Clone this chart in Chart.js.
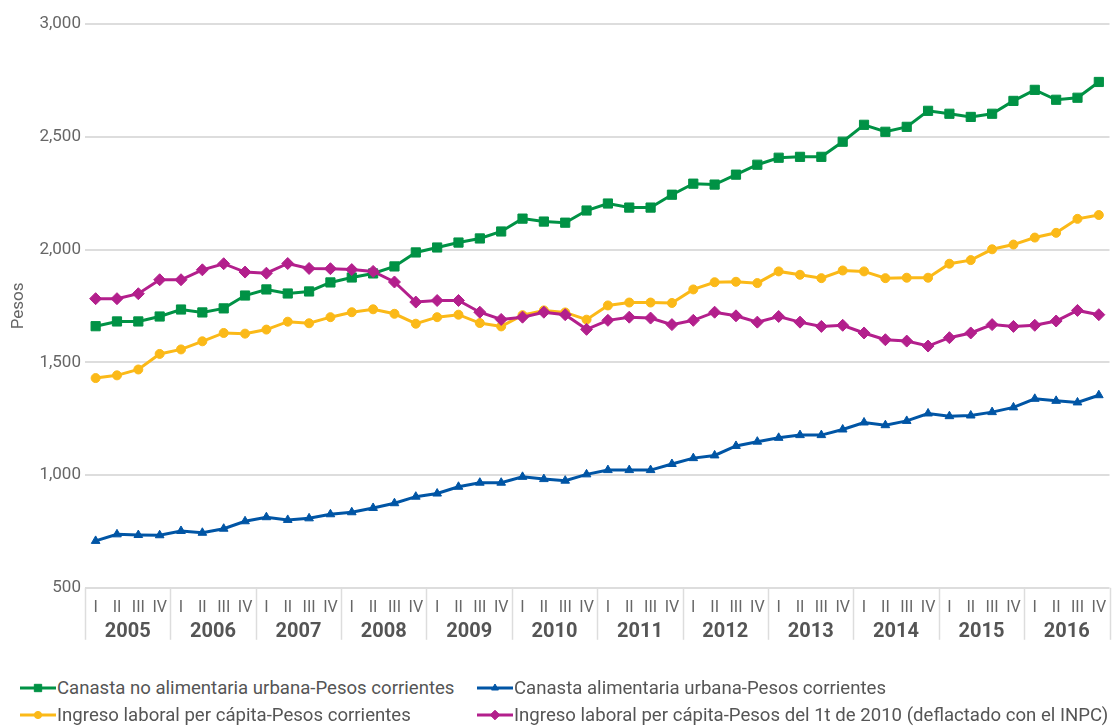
<!DOCTYPE html>
<html>
<head>
<meta charset="utf-8">
<script src="https://cdn.jsdelivr.net/npm/chart.js@4.4.1/dist/chart.umd.min.js"></script>
<style>
  body { margin: 0; background: #fff; font-family: Roboto, sans-serif; }
  #wrap { position: relative; width: 1117px; height: 728px; }
  #chartBox { position: absolute; left: 0; top: 0; width: 1117px; height: 653px; }
  #legend { position: absolute; left: 20px; top: 677px; display: grid; grid-template-columns: 457px auto; row-gap: 5px; }
  .item { display: flex; align-items: center; height: 22px; font-size: 18.6px; color: #555; white-space: nowrap; }
  .item canvas { margin-right: 1px; }
</style>
</head>
<body>
<div id="wrap">
  <div id="chartBox"><canvas id="lineas"></canvas></div>
  <div id="legend"></div>
</div>
<script>
// trimestres y años
const quarters = ['I', 'II', 'III', 'IV'];
const years = ['2005', '2006', '2007', '2008', '2009', '2010', '2011', '2012', '2013', '2014', '2015', '2016'];
const yTicks = [500, 1000, 1500, 2000, 2500, 3000];

// series (pesos)
const canastaNoAlimentaria = [1660, 1681, 1681, 1703, 1734, 1721, 1739, 1796, 1823, 1805, 1814, 1854,
  1876, 1894, 1925, 1987, 2009, 2031, 2049, 2080, 2137, 2124, 2119, 2173,
  2204, 2186, 2186, 2243, 2292, 2288, 2332, 2376, 2407, 2411, 2411, 2478,
  2553, 2522, 2544, 2615, 2602, 2588, 2602, 2659, 2708, 2664, 2673, 2743];
const canastaAlimentaria = [708, 737, 734, 733, 752, 744, 762, 795, 813, 801, 808, 826,
  835, 854, 875, 904, 918, 948, 966, 966, 992, 982, 975, 1003,
  1022, 1022, 1022, 1049, 1075, 1087, 1129, 1148, 1165, 1177, 1177, 1202,
  1233, 1221, 1240, 1273, 1261, 1264, 1279, 1300, 1338, 1329, 1322, 1354];
const ingresoCorriente = [1430, 1442, 1468, 1537, 1557, 1593, 1630, 1627, 1645, 1680, 1673, 1700,
  1722, 1735, 1715, 1671, 1700, 1711, 1674, 1659, 1709, 1730, 1721, 1689,
  1752, 1765, 1765, 1763, 1823, 1855, 1857, 1851, 1903, 1888, 1873, 1907,
  1903, 1873, 1875, 1875, 1937, 1953, 2001, 2022, 2053, 2074, 2136, 2153];
const ingresoDeflactado = [1782, 1782, 1804, 1866, 1866, 1910, 1937, 1900, 1895, 1938, 1916, 1915,
  1911, 1903, 1856, 1767, 1774, 1774, 1722, 1690, 1700, 1722, 1711, 1646,
  1686, 1700, 1696, 1667, 1686, 1722, 1706, 1678, 1703, 1678, 1659, 1664,
  1630, 1600, 1594, 1572, 1609, 1630, 1667, 1659, 1664, 1683, 1730, 1711];

const labels = years.flatMap(() => quarters);

function serie(label, data, color, pointStyle, radius, order) {
  return {
    label: label,
    data: data,
    borderColor: color,
    backgroundColor: color,
    borderWidth: 3,
    pointStyle: pointStyle,
    pointRadius: radius,
    pointHoverRadius: radius,
    pointBorderWidth: 1,
    tension: 0,
    order: order
  };
}

const datasets = [
  serie('Canasta no alimentaria urbana-Pesos corrientes', canastaNoAlimentaria, '#009245', 'rect', 6.5, 2),
  serie('Canasta alimentaria urbana-Pesos corrientes', canastaAlimentaria, '#0055a5', 'triangle', 5, 3),
  serie('Ingreso laboral per cápita-Pesos corrientes', ingresoCorriente, '#fbb918', 'circle', 4.5, 1),
  serie('Ingreso laboral per cápita-Pesos del 1t de 2010 (deflactado con el INPC)', ingresoDeflactado, '#b31f8c', 'rectRot', 6, 0)
];

// fila de años debajo de los trimestres
const yearAxis = {
  id: 'yearAxis',
  afterDraw(chart) {
    const { ctx, chartArea, scales: { x } } = chart;
    const top = chartArea.bottom;
    const half = (x.getPixelForValue(1) - x.getPixelForValue(0)) / 2;
    ctx.save();
    ctx.strokeStyle = '#dddddd';
    ctx.lineWidth = 1.5;
    for (let i = 0; i <= years.length; i++) {
      const px = i < years.length ? x.getPixelForValue(i * 4) - half : x.getPixelForValue(i * 4 - 1) + half;
      ctx.beginPath();
      ctx.moveTo(Math.round(px) + 0.5, top);
      ctx.lineTo(Math.round(px) + 0.5, top + 52);
      ctx.stroke();
    }
    ctx.fillStyle = '#555';
    ctx.font = 'bold 20px Roboto';
    ctx.textAlign = 'center';
    ctx.textBaseline = 'middle';
    years.forEach((y, i) => {
      const cx = (x.getPixelForValue(i * 4) + x.getPixelForValue(i * 4 + 3)) / 2;
      ctx.fillText(y, cx, top + 44);
    });
    ctx.restore();
  }
};

const ctx = document.getElementById('lineas').getContext('2d');
const chart = new Chart(ctx, {
  type: 'line',
  data: { labels: labels, datasets: datasets },
  options: {
    responsive: true,
    maintainAspectRatio: false,
    animation: false,
    layout: { padding: { top: 24, right: 3, left: 9 } },
    plugins: {
      legend: { display: false },
      tooltip: { enabled: false }
    },
    scales: {
      x: {
        offset: true,
        grid: { display: false },
        border: { display: false },
        ticks: {
          color: '#666',
          font: { family: 'Roboto', size: 16 },
          maxRotation: 0,
          autoSkip: false,
          padding: 3
        },
        afterFit: (scale) => { scale.height += 32; }
      },
      y: {
        min: 500,
        max: 3000,
        afterBuildTicks: (scale) => { scale.ticks = yTicks.map(v => ({ value: v })); },
        grid: { color: '#dddddd', lineWidth: 2, drawTicks: false },
        border: { display: false },
        ticks: {
          color: '#666',
          font: { family: 'Roboto', size: 17 },
          padding: 4,
          callback: (v) => v.toLocaleString('en-US')
        },
        title: {
          display: true,
          text: 'Pesos',
          color: '#666',
          font: { family: 'Roboto', size: 17 },
          padding: { top: 0, bottom: 6 }
        }
      }
    }
  },
  plugins: [yearAxis]
});

// leyenda en dos columnas
const legend = document.getElementById('legend');
datasets.forEach((ds) => {
  const item = document.createElement('div');
  item.className = 'item';
  const mark = document.createElement('canvas');
  mark.width = 36;
  mark.height = 16;
  const m = mark.getContext('2d');
  m.strokeStyle = ds.borderColor;
  m.lineWidth = 3;
  m.beginPath();
  m.moveTo(0, 8);
  m.lineTo(36, 8);
  m.stroke();
  m.fillStyle = ds.backgroundColor;
  m.strokeStyle = ds.borderColor;
  m.lineWidth = 1;
  Chart.helpers.drawPoint(m, { pointStyle: ds.pointStyle, radius: ds.pointRadius * 0.8, rotation: 0, borderWidth: 1 }, 18, 8);
  const txt = document.createElement('span');
  txt.textContent = ds.label;
  item.appendChild(mark);
  item.appendChild(txt);
  legend.appendChild(item);
});
</script>
</body>
</html>
